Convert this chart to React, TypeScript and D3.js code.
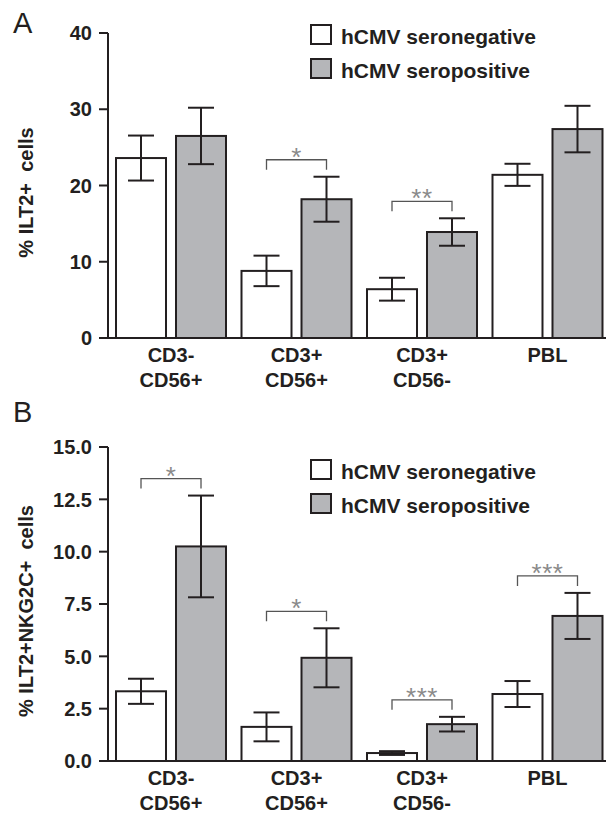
import React from 'react';
import * as d3 from 'd3';

// categories and series
const categories = ["CD3-/CD56+", "CD3+/CD56+", "CD3+/CD56-", "PBL"];
const series = ["seronegative", "seropositive"];
const legendLabels = ["hCMV seronegative", "hCMV seropositive"];

// panel A: % ILT2+ cells
const ilt2Neg = [23.6, 8.8, 6.4, 21.4];
const ilt2NegErr = [2.95, 2.0, 1.5, 1.45];
const ilt2Pos = [26.5, 18.2, 13.9, 27.4];
const ilt2PosErr = [3.7, 2.95, 1.8, 3.05];
const ilt2Sig = ["", "*", "**", ""];
const ilt2Ticks = [0, 10, 20, 30, 40];

// panel B: % ILT2+NKG2C+ cells
const nkgNeg = [3.33, 1.63, 0.38, 3.2];
const nkgNegErr = [0.6, 0.69, 0.09, 0.62];
const nkgPos = [10.25, 4.93, 1.76, 6.93];
const nkgPosErr = [2.43, 1.41, 0.35, 1.1];
const nkgSig = ["*", "*", "***", "***"];
const nkgTicks = [0, 2.5, 5, 7.5, 10, 12.5, 15];

const ink = "#231f20";
const grey = "#b5b6b9";
const font = "'Liberation Sans', Arial, Helvetica, sans-serif";

type PanelProps = {
  letter: string;
  letterY: number;
  yTop: number;
  yBottom: number;
  ticks: number[];
  fmt: (v: number) => string;
  ylabel: string;
  neg: number[];
  negErr: number[];
  pos: number[];
  posErr: number[];
  sig: string[];
  legendY: number;
};

function Panel(props: PanelProps) {
  const { ticks } = props;
  const axisX = 108;

  const y = d3.scaleLinear()
    .domain([0, ticks[ticks.length - 1]])
    .range([props.yBottom, props.yTop]);

  const x = d3.scaleBand()
    .domain(categories)
    .range([108.25, 610.25])
    .paddingInner(0.1235)
    .paddingOuter(0.0618);

  const sub = d3.scaleBand()
    .domain(series)
    .range([0, x.bandwidth()])
    .paddingInner(10 / 60);

  const vals = [props.neg, props.pos];
  const errs = [props.negErr, props.posErr];
  const cap = 13;

  return (
    <g>
      <text x={13} y={props.letterY} fontSize={29} fontFamily={font} fill={ink}>{props.letter}</text>

      {/* y axis */}
      <line x1={axisX} x2={axisX} y1={y(ticks[ticks.length - 1])} y2={props.yBottom} stroke={ink} strokeWidth={2} />
      {ticks.map(t => (
        <g key={t}>
          <line x1={99} x2={axisX} y1={y(t)} y2={y(t)} stroke={ink} strokeWidth={2} />
          <text x={92} y={y(t)} dy="0.36em" textAnchor="end" fontSize={20} fontWeight="bold" fontFamily={font} fill={ink}>
            {props.fmt(t)}
          </text>
        </g>
      ))}
      <text transform={`translate(33,${(props.yTop + props.yBottom) / 2 + 7}) rotate(-90)`} textAnchor="middle"
        fontSize={20} fontWeight="bold" fontFamily={font} fill={ink} style={{ whiteSpace: "pre" }}>
        {props.ylabel}
      </text>

      {/* bars */}
      {categories.map((c, i) => (
        <g key={c} transform={`translate(${x(c)},0)`}>
          {series.map((s, k) => {
            const v = vals[k][i];
            const e = errs[k][i];
            const bx = sub(s)!;
            const cx = bx + sub.bandwidth() / 2;
            return (
              <g key={s}>
                <rect x={bx} y={y(v)} width={sub.bandwidth()} height={y(0) - y(v)}
                  fill={k === 0 ? "#ffffff" : grey} stroke={ink} strokeWidth={2} />
                <line x1={cx} x2={cx} y1={y(v + e)} y2={y(v - e)} stroke={ink} strokeWidth={2} />
                <line x1={cx - cap} x2={cx + cap} y1={y(v + e)} y2={y(v + e)} stroke={ink} strokeWidth={2} />
                <line x1={cx - cap} x2={cx + cap} y1={y(v - e)} y2={y(v - e)} stroke={ink} strokeWidth={2} />
              </g>
            );
          })}
        </g>
      ))}

      {/* x axis */}
      <line x1={99} x2={606} y1={y(0)} y2={y(0)} stroke={ink} strokeWidth={2} />
      {categories.map(c => {
        const cx = x(c)! + x.bandwidth() / 2;
        return (
          <text key={c} x={cx} y={y(0) + 24} textAnchor="middle" fontSize={20} fontWeight="bold" fontFamily={font} fill={ink}>
            {c.split("/").map((line, j) => (
              <tspan key={j} x={cx} dy={j === 0 ? 0 : 25}>{line}</tspan>
            ))}
          </text>
        );
      })}

      {/* significance brackets */}
      {categories.map((c, i) => {
        if (!props.sig[i]) return null;
        const x1 = x(c)! + sub(series[0])! + sub.bandwidth() / 2;
        const x2 = x(c)! + sub(series[1])! + sub.bandwidth() / 2;
        const top = Math.max(props.neg[i] + props.negErr[i], props.pos[i] + props.posErr[i]);
        const by = y(top) - 17;
        return (
          <g key={c}>
            <path d={`M${x1},${by + 10}V${by}H${x2}V${by + 10}`} fill="none" stroke="#555" strokeWidth={1.3} />
            <text x={(x1 + x2) / 2} y={by + 6} textAnchor="middle" fontSize={26} letterSpacing={0.5}
              fontFamily={font} fill="#8a8a8a">{props.sig[i]}</text>
          </g>
        );
      })}

      {/* legend */}
      {legendLabels.map((l, k) => (
        <g key={l} transform={`translate(310,${props.legendY + k * 34})`}>
          <rect x={1} y={1} width={20} height={19} fill={k === 0 ? "#ffffff" : grey} stroke={ink} strokeWidth={2} />
          <text x={31} y={20} fontSize={21} fontWeight="bold" fontFamily={font} fill={ink}>{l}</text>
        </g>
      ))}
    </g>
  );
}

export default function App() {
  return (
    <svg width={606} height={813} viewBox="0 0 606 813"
      style={{ position: "absolute", left: 0, top: 0, display: "block", background: "#fff" }}>
      <Panel letter="A" letterY={33} yTop={33} yBottom={338} ticks={ilt2Ticks} fmt={d3.format("d")}
        ylabel="% ILT2+  cells" neg={ilt2Neg} negErr={ilt2NegErr} pos={ilt2Pos} posErr={ilt2PosErr}
        sig={ilt2Sig} legendY={24} />
      <Panel letter="B" letterY={422} yTop={447} yBottom={761} ticks={nkgTicks} fmt={d3.format(".1f")}
        ylabel="% ILT2+NKG2C+  cells" neg={nkgNeg} negErr={nkgNegErr} pos={nkgPos} posErr={nkgPosErr}
        sig={nkgSig} legendY={459} />
    </svg>
  );
}
